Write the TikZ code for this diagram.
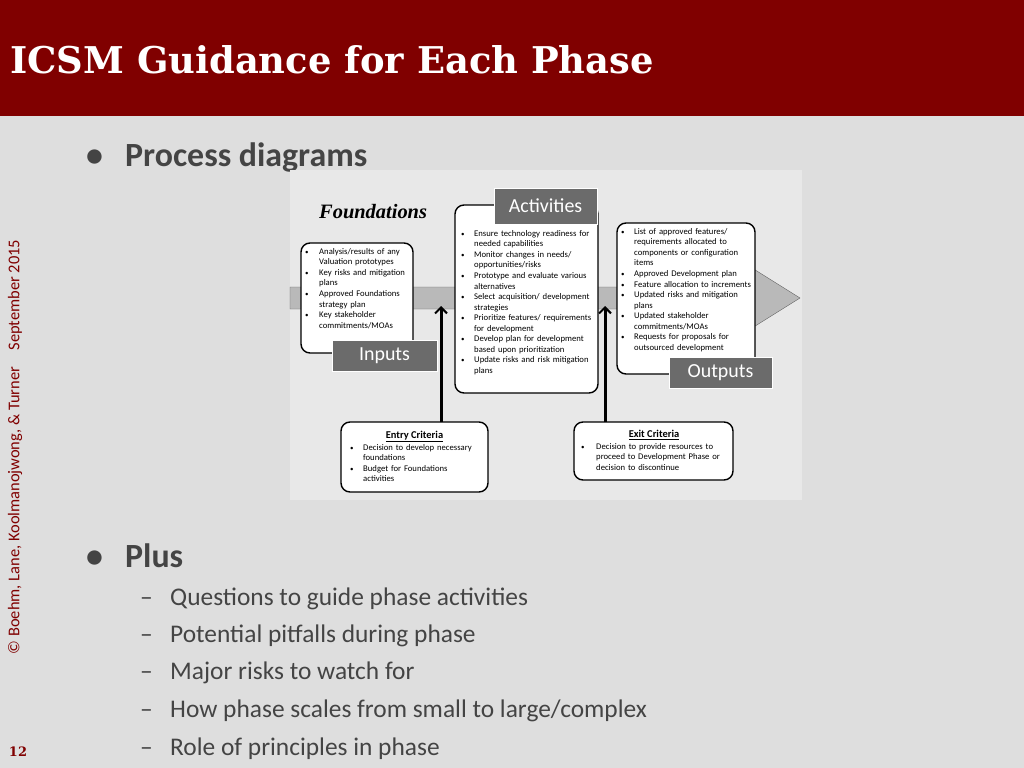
\documentclass[tikz,border=0pt]{standalone}
\usepackage{fontspec}
\setmainfont{Carlito}
\newfontfamily\titlefont{DejaVu Serif}
\newfontfamily\phasefont{Liberation Serif}
\usetikzlibrary{positioning,arrows.meta}
\definecolor{banner}{HTML}{800000}
\definecolor{slidebg}{HTML}{DEDEDE}
\definecolor{panelbg}{HTML}{E8E8E8}
\definecolor{labelbg}{HTML}{6B6B6B}
\definecolor{bodytext}{HTML}{444444}
\newcommand{\bul}[1]{\makebox[#1][l]{\scriptsize•}}
\begin{document}
\begin{tikzpicture}[x=1bp,y=-1bp,
  box/.style={draw=black, line width=1.4bp, rounded corners=9bp, fill=white},
  tag/.style={draw=white, line width=1bp, fill=labelbg, text=white, font=\fontsize{20}{22}\selectfont, inner sep=0pt},
  note/.style={font=\fontsize{8.7}{10.6}\selectfont, align=left, anchor=north west, inner sep=0pt},
  head/.style={font=\fontsize{10.5}{12}\selectfont\bfseries, anchor=north, inner sep=0pt},
  bigbullet/.style={font=\fontsize{34}{36}\selectfont\bfseries, text=bodytext, anchor=west, inner sep=0pt},
  subitem/.style={font=\fontsize{25.5}{28}\selectfont, text=bodytext, anchor=west, inner sep=0pt},
  crit/.style={-{Straight Barb[length=6bp,width=12bp,line width=2bp]}, line width=3bp}]
%\draw [help lines] (0,0) grid (1024,768);
\useasboundingbox (0,0) rectangle (1024,768);
\fill[slidebg] (0,0) rectangle (1024,768);
\fill[banner] (0,0) rectangle (1024,116);
\node[anchor=west, text=white, font=\titlefont\bfseries\fontsize{37}{40}\selectfont, inner sep=0pt] (title) at (10,60) {ICSM Guidance for Each Phase};

\node[rotate=90, text=banner, font=\fontsize{16.5}{18}\selectfont, inner sep=0pt] (credit) at (15,447)
  {\textcopyright{} Boehm, Lane, Koolmanojwong, \& Turner\quad September 2015};
\node[text=banner, font=\titlefont\bfseries\fontsize{13}{15}\selectfont, inner sep=0pt] (pagenum) at (18,752) {12};

\node[bigbullet] (b1) at (86,157) {\makebox[39bp][l]{•}Process diagrams};
\node[bigbullet] (b2) at (86,556) {\makebox[39bp][l]{•}Plus};
\foreach \y/\txt [count=\i] in {599/{Questions to guide phase activities},
    636/{Potential pitfalls during phase},
    673/{Major risks to watch for},
    711/{How phase scales from small to large/complex},
    749/{Role of principles in phase}}
  \node[subitem] (sub\i) at (140,\y) {\makebox[30bp][l]{–}\txt};

% Process diagram
\fill[panelbg] (290,170) rectangle (802,500);
\draw[fill=gray!55, draw=gray!80!black] (290,287) -- (752,287) -- (752,268) -- (800,298)
  -- (752,328) -- (752,309) -- (290,309) -- cycle;
\node[anchor=west, font=\phasefont\bfseries\itshape\fontsize{20.5}{22}\selectfont, inner sep=0pt] (phase) at (319,212) {Foundations};

\draw[box] (301,243) rectangle (413,353);
\node[note, text width=105bp] (intext) at (305,248) {%
  \bul{14bp}Analysis/results of any\\\hspace*{14bp}Valuation prototypes\\
  \bul{14bp}Key risks and mitigation\\\hspace*{14bp}plans\\
  \bul{14bp}Approved Foundations\\\hspace*{14bp}strategy plan\\
  \bul{14bp}Key stakeholder\\\hspace*{14bp}commitments/MOAs};
\node[tag, minimum width=105bp, minimum height=31bp] (inputs) at (384.5,356) {Inputs};

\draw[box] (455,205) rectangle (598,393);
\node[note, text width=140bp] (acttext) at (461,230) {%
  \bul{13bp}Ensure technology readiness for\\\hspace*{13bp}needed capabilities\\
  \bul{13bp}Monitor changes in needs/\\\hspace*{13bp}opportunities/risks\\
  \bul{13bp}Prototype and evaluate various\\\hspace*{13bp}alternatives\\
  \bul{13bp}Select acquisition/ development\\\hspace*{13bp}strategies\\
  \bul{13bp}Prioritize features/ requirements\\\hspace*{13bp}for development\\
  \bul{13bp}Develop plan for development\\\hspace*{13bp}based upon prioritization\\
  \bul{13bp}Update risks and risk mitigation\\\hspace*{13bp}plans};
\node[tag, minimum width=103bp, minimum height=36bp] (activities) at (545.5,206) {Activities};

\draw[box] (617,223) rectangle (755,374);
\node[note, text width=135bp] (outtext) at (621,228) {%
  \bul{13bp}List of approved features/\\\hspace*{13bp}requirements allocated to\\\hspace*{13bp}components or configuration\\\hspace*{13bp}items\\
  \bul{13bp}Approved Development plan\\
  \bul{13bp}Feature allocation to increments\\
  \bul{13bp}Updated risks and mitigation\\\hspace*{13bp}plans\\
  \bul{13bp}Updated stakeholder\\\hspace*{13bp}commitments/MOAs\\
  \bul{13bp}Requests for proposals for\\\hspace*{13bp}outsourced development};
\node[tag, minimum width=103bp, minimum height=31bp] (outputs) at (720.5,372.5) {Outputs};

\draw[box] (341,422) rectangle (488,492);
\node[head] (entryhead) at (414.5,431) {\underline{Entry Criteria}};
\node[note, text width=140bp] (entrytext) at (350,444) {%
  \bul{13bp}Decision to develop necessary\\\hspace*{13bp}foundations\\
  \bul{13bp}Budget for Foundations\\\hspace*{13bp}activities};
\coordinate (entryin) at (441,306);
\draw[crit] (441,422) -- (entryin);

\draw[box] (574,422) rectangle (733,480);
\node[head] (exithead) at (654,430) {\underline{Exit Criteria}};
\node[note, text width=155bp] (exittext) at (581,443) {%
  \bul{15bp}Decision to provide resources to\\\hspace*{15bp}proceed to Development Phase or\\\hspace*{15bp}decision to discontinue};
\coordinate (exitin) at (605,306);
\draw[crit] (605,422) -- (exitin);
\end{tikzpicture}
\end{document}
